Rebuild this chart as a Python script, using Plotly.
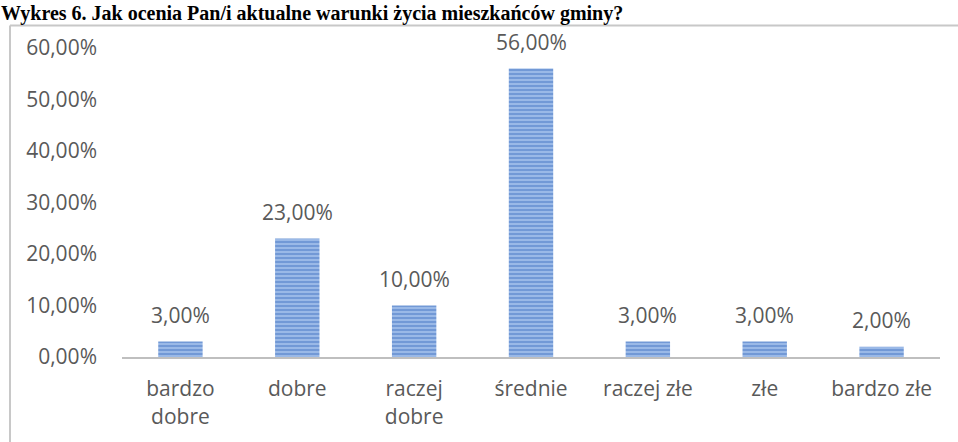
import plotly.graph_objects as go

categories = ["bardzo<br>dobre", "dobre", "raczej<br>dobre", "średnie", "raczej złe", "złe", "bardzo złe"]
values = [3, 23, 10, 56, 3, 3, 2]
labels = ["3,00%", "23,00%", "10,00%", "56,00%", "3,00%", "3,00%", "2,00%"]
tick_vals = [0, 10, 20, 30, 40, 50, 60]
tick_text = ["0,00%", "10,00%", "20,00%", "30,00%", "40,00%", "50,00%", "60,00%"]
title = "Wykres 6. Jak ocenia Pan/i aktualne warunki życia mieszkańców gminy?"

FONT = "Open Sans"
TXT = "#595959"
FS = 21

fig = go.Figure()
fig.add_trace(go.Bar(
    x=categories, y=values,
    marker=dict(color="#9BBAE7",
                line=dict(width=0),
                pattern=dict(shape="-", fgcolor="#4675C3", bgcolor="#9EBDE9", size=4, solidity=0.55)),
    hoverinfo="skip",
))

for c, v, t in zip(categories, values, labels):
    fig.add_annotation(x=c, y=v, text=t, xref="x", yref="y", showarrow=False,
                       yanchor="bottom", yshift=12, borderpad=0,
                       font=dict(family=FONT, size=FS, color=TXT))

L, R, T, B = 122, 18, 48, 79
W, H = 958, 442
pw, ph = W - L - R, H - T - B

def px(x):
    return (x - L) / pw

def py(y):
    return (H - B - y) / ph

# chart frame
fig.add_shape(type="line", xref="paper", yref="paper",
              x0=px(10), x1=px(10), y0=py(460), y1=py(25),
              line=dict(color="#C8C8C8", width=2))
fig.add_shape(type="line", xref="paper", yref="paper",
              x0=px(10), x1=px(958), y0=py(25), y1=py(25),
              line=dict(color="#C8C8C8", width=2))

fig.add_annotation(text="<b>" + title + "</b>", xref="paper", yref="paper",
                   x=px(0), y=py(0), xanchor="left", yanchor="top", showarrow=False,
                   font=dict(family="Liberation Serif", size=20, color="#000000"), borderpad=0)

fig.update_layout(
    width=W, height=H,
    margin=dict(l=L, r=R, t=T, b=B),
    paper_bgcolor="white", plot_bgcolor="white",
    bargap=0.62,
    showlegend=False,
    font=dict(family=FONT, size=FS, color=TXT),
)
fig.update_xaxes(showline=True, linecolor="#BFBFBF", linewidth=2, ticks="", showgrid=False,
                 ticklabelstandoff=12,
                 tickfont=dict(family=FONT, size=FS, color=TXT))
fig.update_yaxes(range=[0, 60], tickvals=tick_vals, ticktext=tick_text, showgrid=False,
                 zeroline=False, showline=False, ticks="", ticklabelstandoff=24,
                 tickfont=dict(family=FONT, size=FS, color=TXT))

fig.write_html("out.html", config={"displayModeBar": False},
               post_script="document.body.style.margin='0';")
